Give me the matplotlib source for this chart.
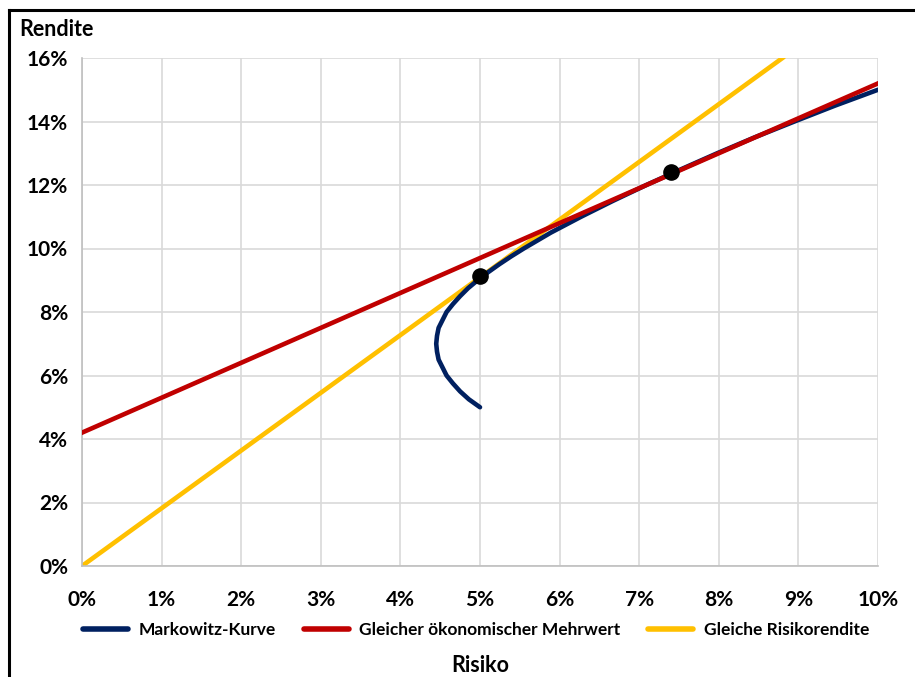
import matplotlib.pyplot as plt
from matplotlib.lines import Line2D
from matplotlib.ticker import FuncFormatter

# Markowitz-Kurve (Risiko, Rendite) in %
markowitz_ret = [5.0, 5.25, 5.5, 5.75, 6.0, 6.25, 6.5, 6.75, 7.0, 7.25, 7.5, 7.75,
                 8.0, 8.25, 8.5, 8.75, 9.0, 9.25, 9.5, 9.75, 10.0, 10.5, 11.0,
                 11.5, 12.0, 12.5, 13.0, 13.5, 14.0, 14.5, 15.0]
markowitz_risk = [5.00, 4.86, 4.75, 4.66, 4.58, 4.53, 4.48, 4.46, 4.45, 4.46, 4.48, 4.53,
                  4.58, 4.66, 4.75, 4.85, 4.97, 5.10, 5.24, 5.39, 5.55, 5.89, 6.27,
                  6.67, 7.09, 7.53, 7.98, 8.45, 8.95, 9.46, 10.0]

# Gleicher ökonomischer Mehrwert
mehrwert_risk = [0.0, 10.0]
mehrwert_ret = [4.2, 15.2]

# Gleiche Risikorendite
risikorendite_risk = [0.0, 8.8]
risikorendite_ret = [0.0, 16.0]

# Tangentialpunkte
punkte_risk = [5.0, 7.4]
punkte_ret = [9.12, 12.42]

NAVY = "#002060"
RED = "#C00000"
YELLOW = "#FFC000"
GRID = "#d9d9d9"

plt.rcParams["font.family"] = ["Lato", "DejaVu Sans"]
plt.rcParams["font.weight"] = "bold"

fig = plt.figure(figsize=(9.15, 6.77), dpi=100)
ax = fig.add_axes([82 / 915, 1 - 566 / 677, 796 / 915, 508 / 677])

ax.plot(markowitz_risk, markowitz_ret, color=NAVY, lw=3.3, solid_capstyle="round",
        solid_joinstyle="round", zorder=3)
ax.plot(mehrwert_risk, mehrwert_ret, color=RED, lw=3.3, zorder=4)
ax.plot(risikorendite_risk, risikorendite_ret, color=YELLOW, lw=3.3, zorder=2)
ax.scatter(punkte_risk, punkte_ret, s=120, color="black", zorder=5)

ax.set_xlim(0, 10)
ax.set_ylim(0, 16)
ax.set_xticks(range(0, 11))
ax.set_yticks(range(0, 17, 2))
pct = FuncFormatter(lambda v, _: f"{v:.0f}%")
ax.xaxis.set_major_formatter(pct)
ax.yaxis.set_major_formatter(pct)
ax.tick_params(length=0, labelsize=15, pad=10)
ax.tick_params(axis="x", pad=17)
for lab in ax.get_xticklabels() + ax.get_yticklabels():
    lab.set_fontweight("bold")
ax.grid(True, color=GRID, lw=1.2)
ax.set_axisbelow(True)
for side in ["top", "right"]:
    ax.spines[side].set_visible(False)
for side in ["left", "bottom"]:
    ax.spines[side].set_color("#bfbfbf")
    ax.spines[side].set_linewidth(1.2)

fig.text(19 / 915, 1 - 29 / 677, "Rendite", fontsize=15.5, fontweight="bold", va="center", ha="left")
fig.text(480 / 915, 1 - 666 / 677, "Risiko", fontsize=15.5, fontweight="bold", va="center", ha="center")

handles = [
    Line2D([], [], color=NAVY, lw=4, solid_capstyle="round"),
    Line2D([], [], color=RED, lw=4, solid_capstyle="round"),
    Line2D([], [], color=YELLOW, lw=4, solid_capstyle="round"),
]
labels = ["Markowitz-Kurve", "Gleicher ökonomischer Mehrwert", "Gleiche Risikorendite"]
fig.legend(handles, labels, loc="center", bbox_to_anchor=(476 / 915, 1 - 630 / 677), ncol=3,
           frameon=False, handlelength=2.6, handletextpad=0.6, columnspacing=1.6,
           prop={"weight": "bold", "size": 12.5})

# Rahmen oben und links
fig.add_artist(Line2D([9 / 915, 1], [1 - 10 / 677] * 2, color="black", lw=2.2, transform=fig.transFigure))
fig.add_artist(Line2D([9 / 915] * 2, [0, 1 - 10 / 677], color="black", lw=2.2, transform=fig.transFigure))

fig.savefig("out.png", dpi=100)
